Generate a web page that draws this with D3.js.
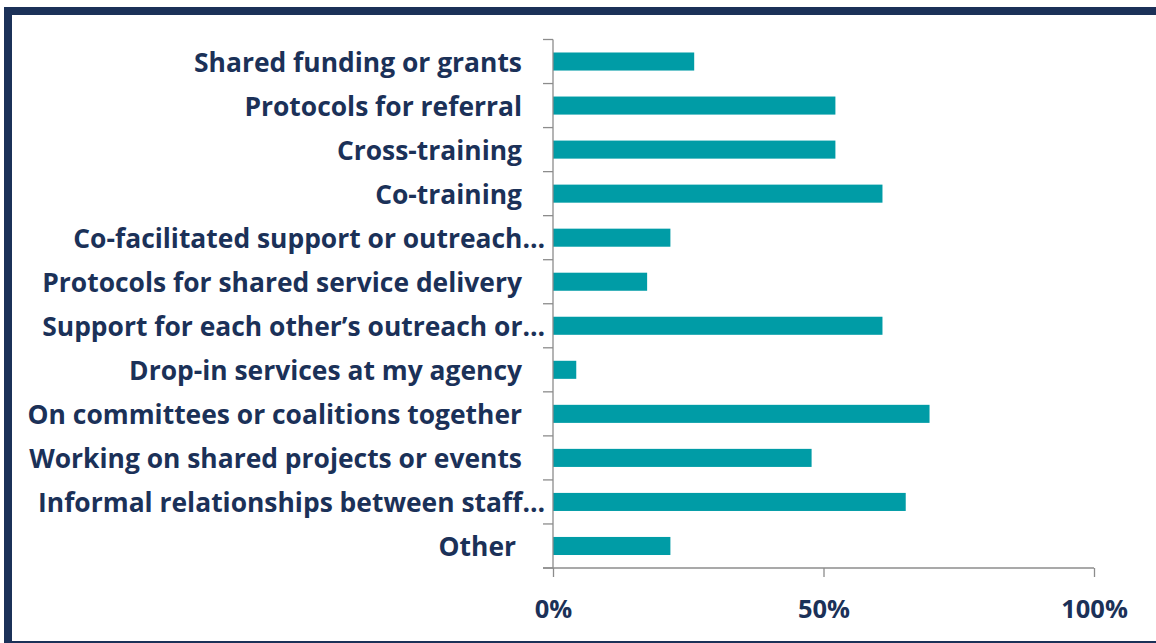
<!DOCTYPE html>
<html>
<head>
<meta charset="utf-8">
<script src="https://cdn.jsdelivr.net/npm/d3@7"></script>
<style>
  html, body { margin: 0; padding: 0; background: #ffffff; }
  svg { display: block; }
</style>
</head>
<body>
<svg id="chart" width="1156" height="643"></svg>
<script>
// Partnership activities and share of respondents reporting each
const categories = [
  "Shared funding or grants",
  "Protocols for referral",
  "Cross-training",
  "Co-training",
  "Co-facilitated support or outreach…",
  "Protocols for shared service delivery",
  "Support for each other’s outreach or…",
  "Drop-in services at my agency",
  "On committees or coalitions together",
  "Working on shared projects or events",
  "Informal relationships between staff…",
  "Other"
];
const shares = [0.261, 0.522, 0.522, 0.609, 0.217, 0.174, 0.609, 0.043, 0.696, 0.478, 0.652, 0.217];
const tickValues = [0, 0.5, 1];
const tickLabels = ["0%", "50%", "100%"];

const navy = "#1B3158";
const teal = "#009CA6";
const axisGrey = "#8C8C8C";

const svg = d3.select("#chart");

// Frame
svg.append("rect").attr("x", 4).attr("y", 7).attr("width", 1152).attr("height", 8).attr("fill", navy);
svg.append("rect").attr("x", 4).attr("y", 7).attr("width", 8).attr("height", 636).attr("fill", navy);
svg.append("rect").attr("x", 12).attr("y", 641).attr("width", 1144).attr("height", 2).attr("fill", navy);

const x = d3.scaleLinear().domain([0, 1]).range([553, 1094]);
const y = d3.scaleBand().domain(categories).range([39.5, 568]).paddingInner(0.59).paddingOuter(0.295);

// Bars
svg.append("g").selectAll("rect")
  .data(categories)
  .join("rect")
  .attr("x", x(0))
  .attr("y", d => y(d))
  .attr("width", (d, i) => x(shares[i]) - x(0))
  .attr("height", y.bandwidth())
  .attr("fill", teal);

// Category axis: line plus ticks between bands
const step = y.step();
const cat = svg.append("g").attr("stroke", axisGrey).attr("stroke-width", 1.3);
cat.append("line").attr("x1", x(0)).attr("x2", x(0)).attr("y1", 39.5).attr("y2", 568);
const bounds = d3.range(categories.length + 1).map(i => 39.5 + i * step);
cat.selectAll("line.tick").data(bounds).join("line").attr("class", "tick")
  .attr("x1", x(0) - 10).attr("x2", x(0)).attr("y1", d => d).attr("y2", d => d);

// Value axis
const ax = svg.append("g").attr("transform", "translate(0,568)");
ax.call(d3.axisBottom(x).tickValues(tickValues).tickSize(9)
  .tickFormat((d, i) => tickLabels[i]));
ax.select(".domain").attr("stroke", axisGrey).attr("stroke-width", 1.3)
  .attr("d", `M${x(0) - 10},0H${x(1)}`);
ax.selectAll(".tick line").attr("stroke", axisGrey).attr("stroke-width", 1.3);
ax.selectAll(".tick text")
  .attr("fill", navy)
  .attr("font-family", "'Open Sans', sans-serif")
  .attr("font-weight", 700)
  .attr("font-size", 25.5)
  .attr("dy", 0)
  .attr("y", 50);

// Category labels, right-aligned; narrowed to a Calibri-like width
const labelG = svg.append("g");
const labels = labelG.selectAll("text")
  .data(categories)
  .join("text")
  .attr("text-anchor", "end")
  .attr("fill", navy)
  .attr("font-family", "'Open Sans', sans-serif")
  .attr("font-weight", 700)
  .attr("font-size", 27)
  .text(d => d);

const widthOf = i => labels.filter((d, j) => j === i).node().getComputedTextLength();
const squeeze = (326 / widthOf(0) + 496 / widthOf(9)) / 2;
labels.attr("transform", d => {
  const right = d.endsWith("…") ? 545 : (d === "Other" ? 516 : 522);
  const base = y(d) + y.bandwidth() / 2 + 10;
  return `translate(${right},${base}) scale(${squeeze},1)`;
});
</script>
</body>
</html>
